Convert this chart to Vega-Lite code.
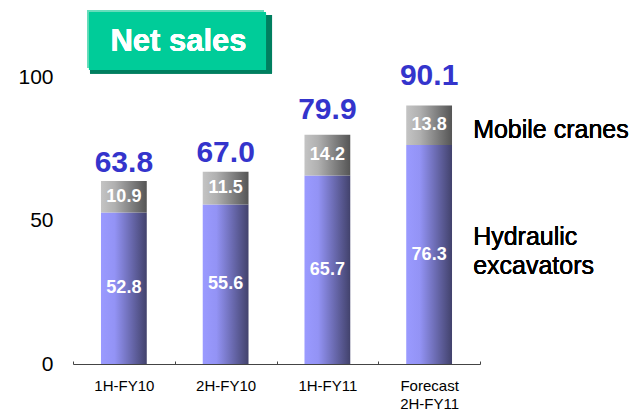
{
  "$schema": "https://vega.github.io/schema/vega-lite/v6.json",
  "width": 407,
  "height": 287,
  "autosize": "none",
  "padding": {"left": 73, "top": 77, "right": 162, "bottom": 46},
  "config": {"view": {"stroke": null}, "font": "Liberation Sans", "axis": {"grid": false}},
  "data": {
    "values": [
      {"period": "1H-FY10", "excavators": 52.8, "cranes": 10.9, "total": 63.8},
      {"period": "2H-FY10", "excavators": 55.6, "cranes": 11.5, "total": 67.0},
      {"period": "1H-FY11", "excavators": 65.7, "cranes": 14.2, "total": 79.9},
      {"period": "Forecast 2H-FY11", "excavators": 76.3, "cranes": 13.8, "total": 90.1}
    ]
  },
  "resolve": {"scale": {"x": "independent", "y": "independent"}},
  "layer": [
    {
      "encoding": {
        "x": {
          "field": "period", "type": "nominal", "sort": null,
          "scale": {"paddingInner": 0, "paddingOuter": 0},
          "axis": {
            "title": null, "labelAngle": 0, "labelFontSize": 15, "labelColor": "#000000",
            "labelExpr": "split(datum.label, ' ')", "labelLineHeight": 18,
            "domainColor": "#444444", "tickColor": "#444444", "tickBand": "extent",
            "tickSize": -3, "labelPadding": 17
          }
        }
      },
      "layer": [
        {
          "mark": {"type": "bar", "width": {"band": 0.45},
            "fill": {"gradient": "linear", "x1": 0, "x2": 1, "y1": 0, "y2": 0,
              "stops": [{"offset": 0, "color": "#9a9aff"}, {"offset": 0.3, "color": "#9393f5"}, {"offset": 1, "color": "#42426c"}]}},
          "encoding": {
            "y": {"field": "excavators", "type": "quantitative",
              "scale": {"domain": [0, 100], "nice": false},
              "axis": {"title": null, "values": [0, 50, 100], "domain": false, "ticks": false,
                "labelFontSize": 21, "labelColor": "#000000", "labelPadding": 20}}
          }
        },
        {
          "mark": {"type": "bar", "width": {"band": 0.45},
            "fill": {"gradient": "linear", "x1": 0, "x2": 1, "y1": 0, "y2": 0,
              "stops": [{"offset": 0, "color": "#c4c4c4"}, {"offset": 0.3, "color": "#b0b0b0"}, {"offset": 1, "color": "#555555"}]}},
          "encoding": {
            "y": {"field": "excavators", "type": "quantitative"},
            "y2": {"field": "total"}
          }
        },
        {
          "mark": {"type": "text", "align": "left", "baseline": "middle", "dx": 44, "fontSize": 25, "color": "#000000", "text": "Mobile cranes"},
          "encoding": {"x": {"datum": "Forecast 2H-FY11"}, "y": {"datum": 81.5}}
        },
        {
          "mark": {"type": "text", "align": "left", "baseline": "middle", "dx": 44, "fontSize": 25, "lineHeight": 28.5, "color": "#000000", "text": ["Hydraulic", "excavators"]},
          "encoding": {"x": {"datum": "Forecast 2H-FY11"}, "y": {"datum": 44.1}}
        }
      ]
    },
    {
      "encoding": {
        "x": {"field": "period", "type": "nominal", "sort": null,
          "scale": {"paddingInner": 0, "paddingOuter": 0}, "axis": null}
      },
      "layer": [
        {
          "mark": {"type": "text", "baseline": "middle", "fontSize": 18, "fontWeight": "bold", "color": "#ffffff"},
          "encoding": {
            "y": {"field": "excavators", "type": "quantitative", "scale": {"domain": [0, 200], "nice": false}, "axis": null},
            "text": {"field": "excavators", "type": "quantitative", "format": ".1f"}
          }
        },
        {
          "transform": [
            {"fold": ["excavators", "total"], "as": ["k", "v"]},
            {"stack": "v", "groupby": ["period"], "sort": [{"field": "k", "order": "ascending"}], "as": ["v0", "v1"]},
            {"filter": "datum.k == 'total'"}
          ],
          "mark": {"type": "text", "baseline": "middle", "fontSize": 18, "fontWeight": "bold", "color": "#ffffff"},
          "encoding": {
            "y": {"field": "v1", "type": "quantitative"},
            "text": {"field": "cranes", "type": "quantitative", "format": ".1f"}
          }
        }
      ]
    },
    {
      "mark": {"type": "text", "baseline": "alphabetic", "dy": 19, "fontSize": 30, "fontWeight": "bold", "color": "#3434cc"},
      "encoding": {
        "x": {"field": "period", "type": "nominal", "sort": null,
          "scale": {"paddingInner": 0, "paddingOuter": 0}, "axis": null},
        "y": {"field": "total", "type": "quantitative", "scale": {"domain": [0, 86.9], "nice": false}, "axis": null},
        "text": {"field": "total", "type": "quantitative", "format": ".1f"}
      }
    },
    {
      "layer": [
        {
          "mark": {"type": "rect", "color": "#007f5f"},
          "encoding": {
            "x": {"datum": 0.167, "type": "quantitative", "scale": {"domain": [0, 4], "nice": false, "zero": false}, "axis": null},
            "x2": {"datum": 1.956},
            "y": {"datum": 121.6, "type": "quantitative", "scale": {"domain": [0, 100], "nice": false}, "axis": null},
            "y2": {"datum": 101.2}
          }
        },
        {
          "mark": {"type": "rect", "color": "#66ddbb"},
          "encoding": {
            "x": {"datum": 0.138, "type": "quantitative"},
            "x2": {"datum": 1.877},
            "y": {"datum": 123.3, "type": "quantitative"},
            "y2": {"datum": 103.1}
          }
        },
        {
          "mark": {"type": "rect", "color": "#00cc99"},
          "encoding": {
            "x": {"datum": 0.157, "type": "quantitative"},
            "x2": {"datum": 1.897},
            "y": {"datum": 122.6, "type": "quantitative"},
            "y2": {"datum": 102.4}
          }
        },
        {
          "mark": {"type": "text", "text": "Net sales", "baseline": "middle", "align": "center", "fontSize": 31, "fontWeight": "bold", "color": "#ffffff"},
          "encoding": {
            "x": {"datum": 1.037, "type": "quantitative"},
            "y": {"datum": 112.2, "type": "quantitative"}
          }
        }
      ]
    }
  ]
}
